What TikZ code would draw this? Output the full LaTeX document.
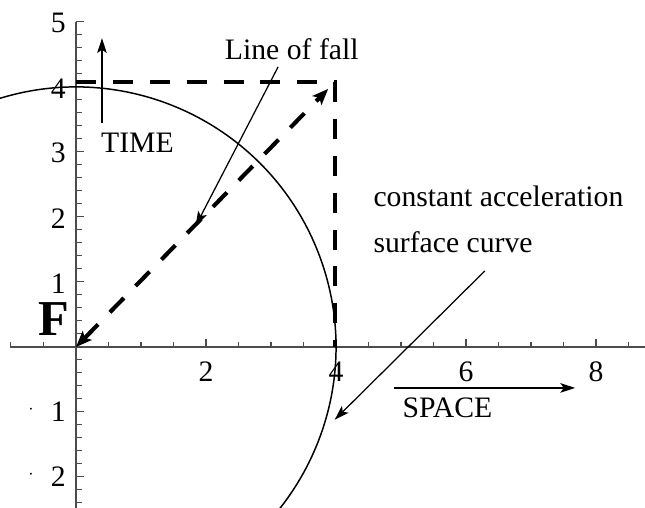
\documentclass[tikz,border=0pt]{standalone}
\usepackage{fontspec}
\setmainfont{Liberation Serif}
\usetikzlibrary{arrows.meta}
\begin{document}
\begin{tikzpicture}[x=1cm,y=1cm,
  axis/.style={draw=black!70, line width=0.5pt},
  tickmark/.style={draw=black!70, line width=0.45pt},
  thinarrow/.style={line width=0.55pt, -{Stealth[length=6.5pt,width=4.2pt,inset=1.5pt]}},
  thickdash/.style={line width=1.8pt, dash pattern=on 8.75pt off 7.4pt},
  thickarrows/.style={{Stealth[length=7pt,width=5.5pt,inset=1.5pt]}-{Stealth[length=7pt,width=5.5pt,inset=1.5pt]}},
  ticklab/.style={font=\fontsize{13}{15}\selectfont, inner sep=0pt},
  lab/.style={font=\fontsize{13}{15}\selectfont, inner sep=0pt},
  dotlab/.style={font=\fontsize{7}{8}\selectfont, inner sep=0pt}]
\useasboundingbox (-1.169,-2.477) rectangle (8.754,5.338);
\clip (-1.169,-2.477) rectangle (8.754,5.338);

% axes
\coordinate (xl) at (-1.015,0);
\coordinate (xr) at (8.754,0);
\coordinate (yt) at (0,5);
\coordinate (yb) at (0,-2.5);
\draw[axis] (xl) -- (xr);
\draw[axis] (yt) -- (yb);
\foreach \i in {-2,...,17} \draw[tickmark] (\i/2,0) -- (\i/2,0.075);
\foreach \x in {2,4,6,8} \draw[tickmark] (\x,0) -- (\x,0.12);
\foreach \i in {-12,...,25} \draw[tickmark] (0,\i/5) -- (0.085,\i/5);
\foreach \y in {-2,-1,1,2,3,4,5} \draw[tickmark] (0,\y) -- (0.125,\y);

% tick labels
\foreach \x in {2,4,6,8} \node[ticklab] (xlab\x) at (\x,-0.385) {\x};
\foreach \y in {1,2,3,4,5} \node[ticklab, anchor=east] (ylab\y) at (-0.15,\y-0.02) {\y};
\node[ticklab, anchor=east] (ylabm1) at (-0.15,-1.0) {1};
\node[ticklab, anchor=east] (ylabm2) at (-0.15,-2.0) {2};
\node[dotlab] (dotm1) at (-0.69,-0.99) {·};
\node[dotlab] (dotm2) at (-0.69,-1.99) {·};

% circle
\draw[line width=0.65pt] (110:4) arc (110:-70:4);

% dashed lines
\coordinate (O) at (0,0);
\coordinate (A) at (0,4.07);
\coordinate (C) at (3.98,4.07);
\coordinate (D) at (3.98,0);
\coordinate (T) at (3.88,3.97);
\draw[thickdash] (A) -- (C) -- (D);
\draw[thickdash, thickarrows] (O) -- (T);

% labels
\node[font=\fontsize{22}{24}\selectfont\bfseries, inner sep=0pt, anchor=base] (F) at (-0.34,0.169) {F};
\node[lab, anchor=base] (lof) at (3.32,4.415) {Line of fall};
\node[lab, anchor=base] (time) at (0.946,2.985) {TIME};
\node[lab, anchor=base] (space) at (5.715,-1.092) {SPACE};
\node[lab, anchor=base west] (ca) at (4.57,2.154) {constant acceleration};
\node[lab, anchor=base west] (sc) at (4.57,1.46) {surface curve};

% thin arrows
\coordinate (lofS) at (3.11,4.31);
\coordinate (lofE) at (1.84,1.86);
\coordinate (caS) at (6.29,1.17);
\coordinate (caE) at (3.98,-1.12);
\coordinate (tS) at (0.4,3.45);
\coordinate (tE) at (0.4,4.75);
\coordinate (sS) at (4.89,-0.63);
\coordinate (sE) at (7.68,-0.63);
\draw[thinarrow] (lofS) -- (lofE);
\draw[thinarrow] (caS) -- (caE);
\draw[thinarrow] (tS) -- (tE);
\draw[thinarrow] (sS) -- (sE);
\end{tikzpicture}
\end{document}
